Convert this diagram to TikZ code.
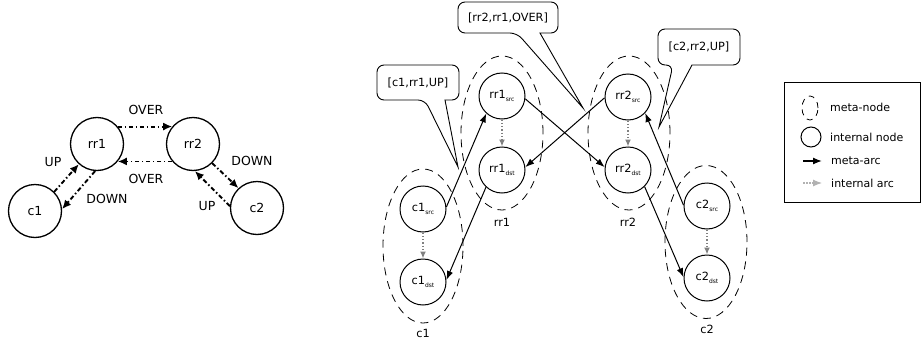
\documentclass[tikz,border=0pt]{standalone}
\usepackage{fontspec}
\setmainfont{DejaVu Sans}
\usetikzlibrary{arrows.meta,shapes.geometric}
\newcommand{\mysub}[1]{\raisebox{-3.5pt}{\fontsize{6}{6}\selectfont #1}}
\tikzset{
  lnode/.style={circle,draw,line width=1.3pt,minimum size=53pt,inner sep=0pt,font=\fontsize{12.5}{15}\selectfont},
  llbl/.style={inner sep=0pt,font=\fontsize{12.5}{15}\selectfont},
  larc/.style={line width=1.9pt,dash pattern=on 4.5pt off 2.5pt on 1.5pt off 2.5pt,-{Latex[length=9pt,width=8pt]}},
  inode/.style={circle,draw,line width=1pt,minimum size=46pt,inner sep=0pt,fill=white,font=\fontsize{11.3}{13}\selectfont},
  mnode/.style={ellipse,draw,line width=0.8pt,dash pattern=on 8pt off 6pt,inner sep=0pt},
  rlbl/.style={inner sep=0pt,font=\fontsize{11.3}{13}\selectfont},
  marc/.style={line width=1pt,-{Latex[length=9pt,width=6.5pt]}},
  iarc/.style={gray,line width=1.3pt,dotted,-{Latex[length=7pt,width=6pt]}},
  bubble/.style={draw,line width=0.9pt,fill=white},
  leg/.style={inner sep=0pt,anchor=west,font=\fontsize{11}{13}\selectfont}
}
\begin{document}
\begin{tikzpicture}[x=1pt,y=-1pt]
\useasboundingbox (0,0) rectangle (922,343);

% ---------- left graph ----------
\node[lnode] (rr1) at (97,144) {rr1};
\node[lnode] (rr2) at (193,144) {rr2};
\node[lnode] (c1) at (35,211) {c1};
\node[lnode] (c2) at (257,208) {c2};
\draw[larc] (rr1.40) -- (rr2.140);
\draw[larc] (rr2.220) -- (rr1.320);
\draw[larc] (c1.45) -- (rr1.228);
\draw[larc] (rr1.266) -- (c1.4);
\draw[larc] (rr2.315) -- (c2.133);
\draw[larc] (c2.176) -- (rr2.274);
\node[llbl] (lo1) at (146,110) {OVER};
\node[llbl] (lo2) at (146,179) {OVER};
\node[llbl] (lu1) at (53,162) {UP};
\node[llbl] (ld1) at (107,199) {DOWN};
\node[llbl] (ld2) at (252,161) {DOWN};
\node[llbl] (lu2) at (207,206) {UP};

% ---------- callouts ----------
\draw[bubble] (445,100) [rounded corners=7pt] -- (459,100) -- (459,65) -- (377,65) -- (377,100) -- (425,100) [sharp corners] -- (458,167) -- cycle;
\node[rlbl] (b1) at (418,83) {[c1,rr1,UP]};
\draw[bubble] (540,33) [rounded corners=7pt] -- (558,33) -- (558,2) -- (458,2) -- (458,33) -- (517,33) [sharp corners] -- (583,108) -- cycle;
\node[rlbl] (b2) at (508,18) {[rr2,rr1,OVER]};
\draw[bubble] (692,65) [rounded corners=7pt] -- (740,65) -- (740,29) -- (658,29) -- (658,65) -- (673,65) [sharp corners] -- (659,127) -- cycle;
\node[rlbl] (b3) at (699,47) {[c2,rr2,UP]};

% ---------- meta nodes ----------
\node[mnode,minimum width=82pt,minimum height=154pt] (mrr1) at (502,133) {};
\node[mnode,minimum width=82pt,minimum height=154pt] (mrr2) at (629,133) {};
\node[mnode,minimum width=80pt,minimum height=154pt] (mc1) at (423,246) {};
\node[mnode,minimum width=82pt,minimum height=153pt] (mc2) at (706,242) {};
\node[rlbl] (lrr1) at (502,222) {rr1};
\node[rlbl] (lrr2) at (628,222) {rr2};
\node[rlbl] (lc1) at (423,333) {c1};
\node[rlbl] (lc2) at (707,329) {c2};

% ---------- internal nodes ----------
\node[inode] (rr1s) at (502,96) {rr1\mysub{src}};
\node[inode] (rr1d) at (502,170) {rr1\mysub{dst}};
\node[inode] (rr2s) at (628,97) {rr2\mysub{src}};
\node[inode] (rr2d) at (628,170) {rr2\mysub{dst}};
\node[inode] (c1s) at (423,209) {c1\mysub{src}};
\node[inode] (c1d) at (423,282) {c1\mysub{dst}};
\node[inode] (c2s) at (707,206) {c2\mysub{src}};
\node[inode] (c2d) at (707,278) {c2\mysub{dst}};

\draw[iarc] (rr1s) -- (rr1d);
\draw[iarc] (rr2s) -- (rr2d);
\draw[iarc] (c1s) -- (c1d);
\draw[iarc] (c2s) -- (c2d);

\draw[marc] (c1s.5) -- (rr1s.228);
\draw[marc] (rr1d.227) -- (c1d.5);
\draw[marc] (rr1s.353) -- (rr2d.173);
\draw[marc] (rr2s.182) -- (rr1d.7);
\draw[marc] (rr2d.315) -- (c2d.178);
\draw[marc] (c2s.178) -- (rr2s.317);

% ---------- legend ----------
\node[draw,line width=0.9pt,minimum width=136pt,minimum height=120pt,inner sep=0pt] (legbox) at (852,142) {};
\node[ellipse,draw,line width=0.8pt,dash pattern=on 6pt off 5pt,minimum width=16pt,minimum height=24pt,inner sep=0pt] (legm) at (810,108) {};
\node[leg] (legmt) at (830,107) {meta-node};
\node[circle,draw,line width=1pt,minimum size=20pt,inner sep=0pt] (legi) at (811,137) {};
\node[leg] (legit) at (830,137) {internal node};
\coordinate (ma1) at (803,161);
\coordinate (ma2) at (822,161);
\draw[line width=1.3pt,-{Latex[length=9pt,width=7pt]}] (ma1) -- (ma2);
\node[leg] (legat) at (831,161) {meta-arc};
\coordinate (ia1) at (803,183);
\coordinate (ia2) at (822,183);
\draw[gray!60,line width=1.1pt,dash pattern=on 2pt off 1pt,-{Latex[length=9pt,width=7pt]}] (ia1) -- (ia2);
\node[leg] (legiat) at (831,183) {internal arc};
\end{tikzpicture}
\end{document}
